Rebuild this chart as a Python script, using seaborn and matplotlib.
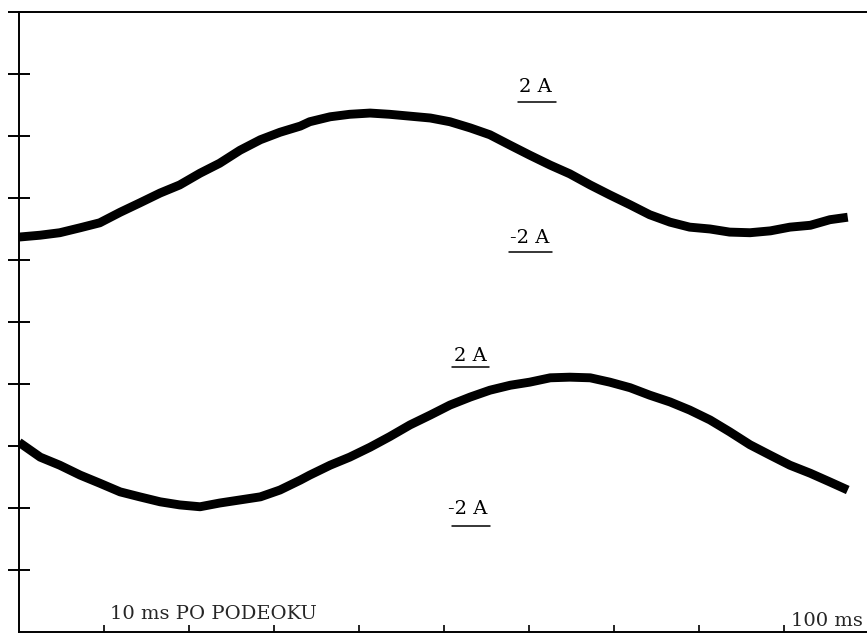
import matplotlib
matplotlib.use("Agg")
import matplotlib.pyplot as plt
import pandas as pd
import seaborn as sns

# Time axis (ms) and trace levels (screen divisions) for channel 1 (upper trace)
t_ch1 = [0.0, 2.5, 4.8, 7.2, 9.5, 11.9, 14.2, 16.6, 18.9, 21.3, 23.6, 26.0,
         28.4, 30.7, 33.1, 34.2, 36.6, 38.9, 41.3, 43.6, 46.0, 48.4, 50.7,
         53.1, 55.4, 57.8, 60.1, 62.5, 64.8, 67.2, 69.5, 71.9, 74.2, 76.6,
         78.9, 81.3, 83.6, 86.0, 88.4, 90.7, 93.1, 95.4, 97.5]
y_ch1 = [6.37, 6.40, 6.44, 6.52, 6.60, 6.77, 6.92, 7.08, 7.21, 7.40, 7.56, 7.77,
         7.94, 8.06, 8.16, 8.23, 8.31, 8.35, 8.37, 8.35, 8.32, 8.29, 8.23,
         8.13, 8.02, 7.85, 7.69, 7.53, 7.39, 7.21, 7.05, 6.89, 6.73, 6.61,
         6.53, 6.50, 6.45, 6.44, 6.47, 6.53, 6.56, 6.65, 6.69]

# Channel 2 (lower trace)
t_ch2 = t_ch1
y_ch2 = [3.06, 2.82, 2.69, 2.53, 2.40, 2.26, 2.18, 2.10, 2.05, 2.02, 2.08, 2.13,
         2.18, 2.29, 2.45, 2.53, 2.69, 2.82, 2.98, 3.15, 3.34, 3.50, 3.66,
         3.79, 3.90, 3.98, 4.03, 4.10, 4.11, 4.10, 4.03, 3.94, 3.82, 3.71,
         3.58, 3.42, 3.23, 3.02, 2.85, 2.69, 2.56, 2.42, 2.29]

# Scale markers: (text, x ms, y div, underline from, underline to, underline y)
scale_labels = [
    ("2 A", 60.8, 8.79, 58.7, 63.2, 8.55),
    ("-2 A", 60.1, 6.35, 57.6, 62.7, 6.13),
    ("2 A", 53.1, 4.45, 50.9, 55.3, 4.27),
    ("-2 A", 52.8, 1.98, 50.9, 55.4, 1.71),
]

df = pd.concat([
    pd.DataFrame({"t": t_ch1, "y": y_ch1, "ch": "CH1"}),
    pd.DataFrame({"t": t_ch2, "y": y_ch2, "ch": "CH2"}),
])

sns.set_style("ticks")
plt.rcParams["font.family"] = ["DejaVu Serif"]

fig = plt.figure(figsize=(8.67, 6.36), dpi=100)
ax = fig.add_axes([19 / 867, 4 / 636, 850 / 867, 620 / 636])

sns.lineplot(data=df, x="t", y="y", units="ch", estimator=None, sort=False,
             color="black", linewidth=6.4, ax=ax, legend=False)
for line in ax.get_lines():
    line.set_solid_joinstyle("round")
    line.set_solid_capstyle("butt")

for txt, x, y, u0, u1, uy in scale_labels:
    ax.text(x, y, txt, ha="center", va="center", fontsize=14, color="black")
    ax.plot([u0, u1], [uy, uy], color="black", linewidth=1.1)

ax.text(10.7, 0.29, "10 ms PO PODEOKU", ha="left", va="center", fontsize=14)
ax.text(99.3, 0.18, "100 ms", ha="right", va="center", fontsize=14)

ax.set_xlim(0, 100)
ax.set_ylim(0, 10)
ax.set_xticks(range(10, 100, 10))
ax.set_yticks(range(1, 11))
ax.set_xticklabels([])
ax.set_yticklabels([])
ax.tick_params(axis="x", direction="in", length=5, width=1.2, color="black")
ax.tick_params(axis="y", direction="inout", length=16, width=1.4, color="black")
ax.set_xlabel("")
ax.set_ylabel("")
for side in ("left", "bottom", "top"):
    ax.spines[side].set_visible(True)
    ax.spines[side].set_linewidth(1.4)
    ax.spines[side].set_color("black")
ax.spines["right"].set_visible(False)

fig.savefig("out.png", dpi=100)
